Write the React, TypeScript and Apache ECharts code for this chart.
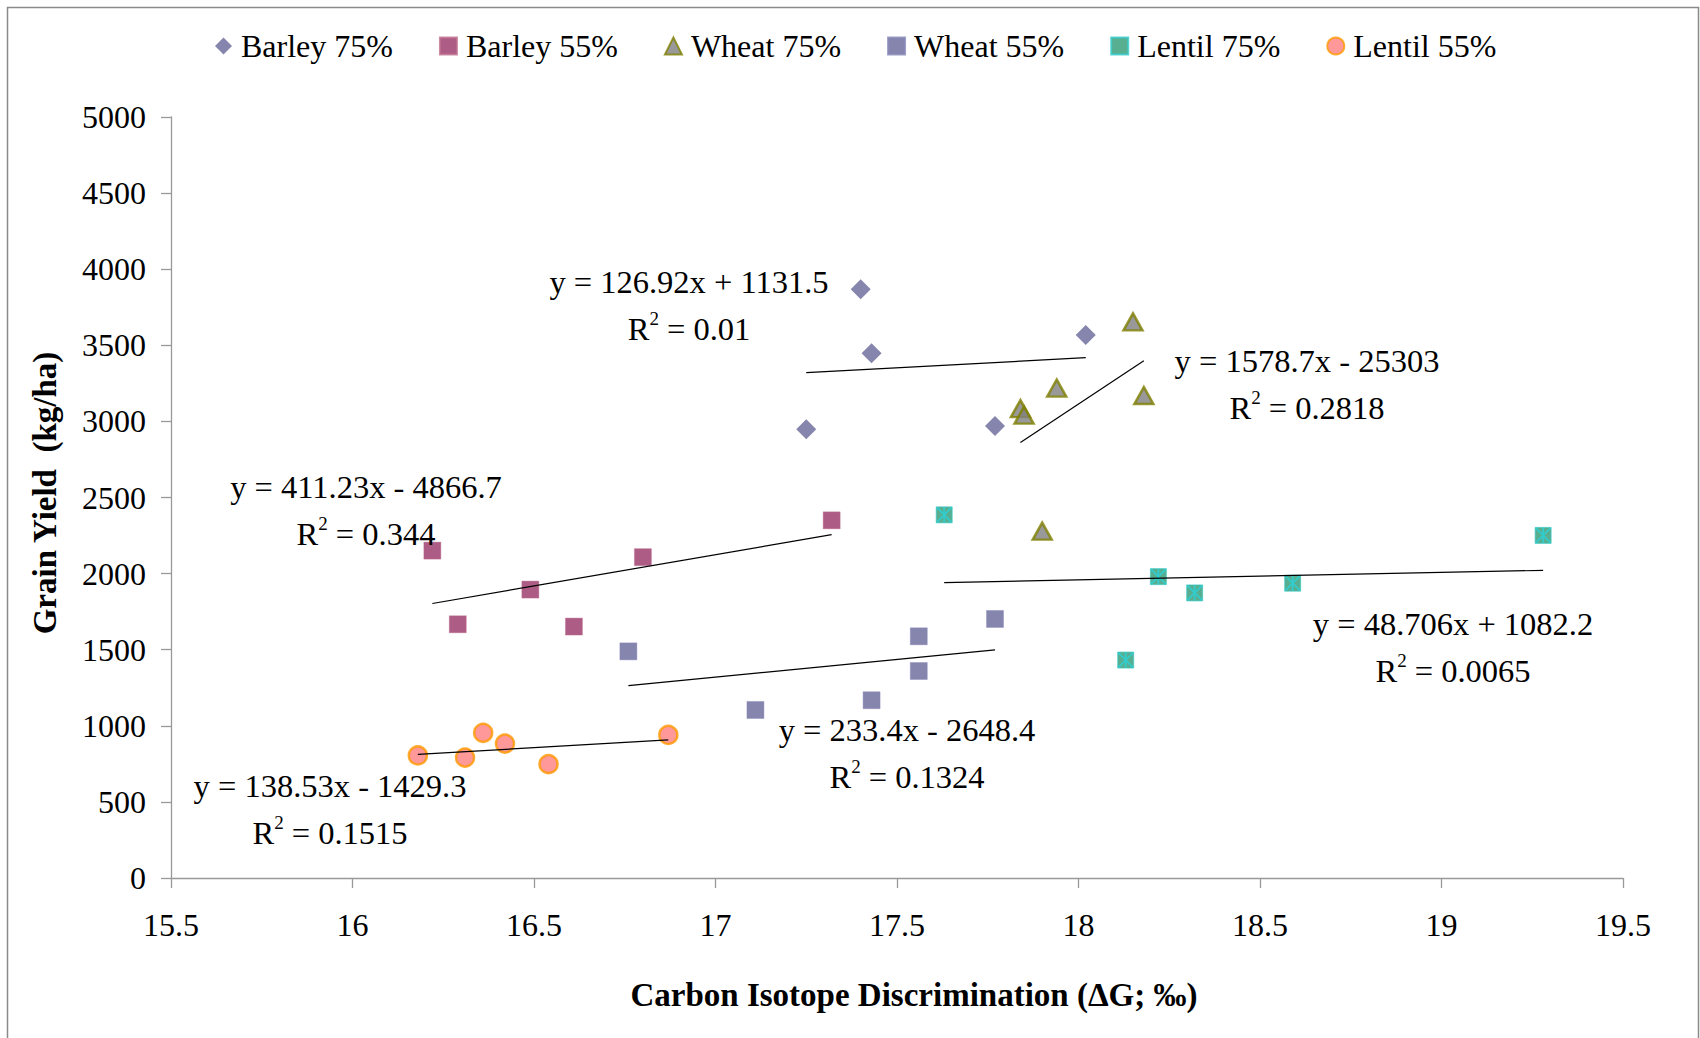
import React, { useEffect, useRef } from "react";
import * as echarts from "echarts";

const FONT = "'Liberation Serif', 'Times New Roman', serif";

const seriesNames = ["Barley 75%", "Barley 55%", "Wheat 75%", "Wheat 55%", "Lentil 75%", "Lentil 55%"];

const barley75X = [17.40, 17.43, 17.25, 17.77, 18.02];
const barley75Y = [3868, 3447, 2949, 2970, 3568];
const barley55X = [16.22, 16.29, 16.49, 16.61, 16.80, 17.32];
const barley55Y = [2151, 1667, 1895, 1652, 2108, 2350];
const wheat75X = [18.15, 17.94, 17.84, 17.85, 18.18, 17.90];
const wheat75Y = [3654, 3219, 3084, 3041, 3170, 2279];
const wheat55X = [16.76, 17.11, 17.43, 17.56, 17.56, 17.77];
const wheat55Y = [1489, 1104, 1168, 1588, 1360, 1702];
const lentil75X = [17.63, 18.22, 18.32, 18.59, 18.13, 19.28];
const lentil75Y = [2386, 1980, 1873, 1937, 1432, 2251];
const lentil55X = [16.18, 16.31, 16.36, 16.42, 16.54, 16.87];
const lentil55Y = [805, 791, 954, 883, 748, 940];

// trend line coefficients (as printed on the chart)
const trendSlopes = [126.92, 411.23, 1578.7, 233.4, 48.706, 138.53];
const trendIntercepts = [1131.5, -4866.7, -25303, -2648.4, 1082.2, -1429.3];
const trendEquations = [
  "y = 126.92x + 1131.5",
  "y = 411.23x - 4866.7",
  "y = 1578.7x - 25303",
  "y = 233.4x - 2648.4",
  "y = 48.706x + 1082.2",
  "y = 138.53x - 1429.3",
];
const trendR2 = ["0.01", "0.344", "0.2818", "0.1324", "0.0065", "0.1515"];

const xTicks = { min: 15.5, max: 19.5, interval: 0.5 };
const yTicks = { min: 0, max: 5000, interval: 500 };

const xTitle = "Carbon Isotope Discrimination (\u0394G; \u2030)";
const yTitle = "Grain Yield  (kg/ha)";

// label centre positions (pixels)
const eqPos: [number, number][] = [
  [689, 282],
  [366, 487],
  [1307, 361],
  [907, 730],
  [1453, 624],
  [330, 786],
];

const xsAll = [barley75X, barley55X, wheat75X, wheat55X, lentil75X, lentil55X];
const ysAll = [barley75Y, barley55Y, wheat75Y, wheat55Y, lentil75Y, lentil55Y];

const styles = [
  { symbol: "diamond", symbolSize: 20, itemStyle: { color: "#666699" } },
  { symbol: "rect", symbolSize: 17, itemStyle: { color: "#993366", borderColor: "#c07090", borderWidth: 0.5 } },
  { symbol: "triangle", symbolSize: [19, 17], itemStyle: { color: "#808080", borderColor: "#808000", borderWidth: 2.5 } },
  { symbol: "rect", symbolSize: 17, itemStyle: { color: "#666699", borderColor: "#8888bb", borderWidth: 0.5 } },
  { symbol: "rect", symbolSize: 16, itemStyle: { color: "#2E9A74", borderColor: "#33CCCC", borderWidth: 0.8 } },
  { symbol: "circle", symbolSize: 18, itemStyle: { color: "#FF8080", borderColor: "#FF9900", borderWidth: 2.5 } },
];

export default function App() {
  const ref = useRef<HTMLDivElement>(null);
  useEffect(() => {
    document.body.style.margin = "0";
    const chart = echarts.init(ref.current!, undefined, { renderer: "svg" });

    const scatterSeries: any[] = seriesNames.map((name, i) => ({
      name,
      type: "scatter",
      data: xsAll[i].map((x, j) => [x, ysAll[i][j]]),
      symbol: styles[i].symbol,
      symbolSize: styles[i].symbolSize,
      itemStyle: styles[i].itemStyle,
      z: 2,
      emphasis: { disabled: true },
    }));

    const asterisk: any = {
      name: "Lentil 75% star",
      type: "custom",
      data: lentil75X.map((x, j) => [x, lentil75Y[j]]),
      z: 3,
      silent: true,
      renderItem: (params: any, api: any) => {
        const p = api.coord([api.value(0), api.value(1)]);
        const h = 7.5;
        const st = { stroke: "#33CCCC", lineWidth: 1.8 };
        return {
          type: "group",
          children: [
            { type: "line", shape: { x1: p[0] - h, y1: p[1] - h, x2: p[0] + h, y2: p[1] + h }, style: st },
            { type: "line", shape: { x1: p[0] + h, y1: p[1] - h, x2: p[0] - h, y2: p[1] + h }, style: st },
            { type: "line", shape: { x1: p[0], y1: p[1] - h, x2: p[0], y2: p[1] + h }, style: st },
          ],
        };
      },
    };

    const trendSeries: any[] = seriesNames.map((name, i) => {
      const xs = xsAll[i];
      const x0 = Math.min(...xs);
      const x1 = Math.max(...xs);
      return {
        name: name + " trend",
        type: "line",
        data: [
          [x0, trendSlopes[i] * x0 + trendIntercepts[i]],
          [x1, trendSlopes[i] * x1 + trendIntercepts[i]],
        ],
        showSymbol: false,
        symbol: "none",
        lineStyle: { color: "#000", width: 1.2 },
        z: 4,
        silent: true,
      };
    });

    const labels: any[] = [];
    trendEquations.forEach((eq, i) => {
      const [cx, cy] = eqPos[i];
      labels.push({
        type: "text",
        x: cx,
        y: cy,
        z: 10,
        style: {
          text: eq,
          font: `32.5px ${FONT}`,
          fill: "#000",
          align: "center",
          verticalAlign: "middle",
        },
      });
      labels.push({
        type: "text",
        x: cx,
        y: cy + 45,
        z: 10,
        style: {
          text: `{b|R}{s|2}{b| = ${trendR2[i]}}`,
          align: "center",
          verticalAlign: "middle",
          rich: {
            b: { fontSize: 32.5, fontFamily: FONT, fill: "#000", color: "#000", lineHeight: 36, verticalAlign: "bottom" },
            s: { fontSize: 19, fontFamily: FONT, fill: "#000", color: "#000", lineHeight: 36, verticalAlign: "top" },
          },
        },
      });
    });

    chart.setOption({
      animation: false,
      backgroundColor: "#fff",
      grid: { left: 171, right: 77, top: 117, bottom: 160 },
      legend: {
        data: [
          { name: "Barley 75%", icon: "diamond" },
          { name: "Barley 55%", icon: "rect" },
          { name: "Wheat 75%", icon: "triangle" },
          { name: "Wheat 55%", icon: "rect" },
          { name: "Lentil 75%", icon: "rect" },
          { name: "Lentil 55%", icon: "circle" },
        ],
        left: 210,
        top: 25,
        itemWidth: 17,
        itemHeight: 17,
        itemGap: 46,
        selectedMode: false,
        textStyle: { fontFamily: FONT, fontSize: 32, color: "#000", padding: [0, 0, 0, 4] },
      },
      xAxis: {
        type: "value",
        min: xTicks.min,
        max: xTicks.max,
        interval: xTicks.interval,
        axisLine: { show: true, lineStyle: { color: "#999", width: 1.3 } },
        axisTick: { show: true, inside: false, length: 10, lineStyle: { color: "#999", width: 1.3 } },
        axisLabel: { fontFamily: FONT, fontSize: 32, color: "#000", margin: 31 },
        splitLine: { show: false },
      },
      yAxis: {
        type: "value",
        min: yTicks.min,
        max: yTicks.max,
        interval: yTicks.interval,
        axisLine: { show: true, lineStyle: { color: "#999", width: 1.3 } },
        axisTick: { show: true, inside: false, length: 10, lineStyle: { color: "#999", width: 1.3 } },
        axisLabel: { fontFamily: FONT, fontSize: 32, color: "#000", margin: 25, formatter: (v: number) => String(v) },
        splitLine: { show: false },
      },
      graphic: [
        {
          type: "rect",
          shape: { x: 7.5, y: 7.5, width: 1691, height: 1100 },
          style: { fill: "none", stroke: "#8a8a8a", lineWidth: 1.5 },
          z: 0,
          silent: true,
        },
        {
          type: "text",
          x: 914,
          y: 995,
          style: { text: xTitle, font: `bold 33px ${FONT}`, fill: "#000", align: "center", verticalAlign: "middle" },
        },
        {
          type: "text",
          x: 45,
          y: 493,
          rotation: Math.PI / 2,
          style: { text: yTitle, font: `bold 33px ${FONT}`, fill: "#000", align: "center", verticalAlign: "middle" },
        },
        ...labels,
      ],
      series: [...scatterSeries, asterisk, ...trendSeries],
    });
    return () => chart.dispose();
  }, []);
  return <div ref={ref} style={{ position: "fixed", left: 0, top: 0, width: 1700, height: 1038 }} />;
}
